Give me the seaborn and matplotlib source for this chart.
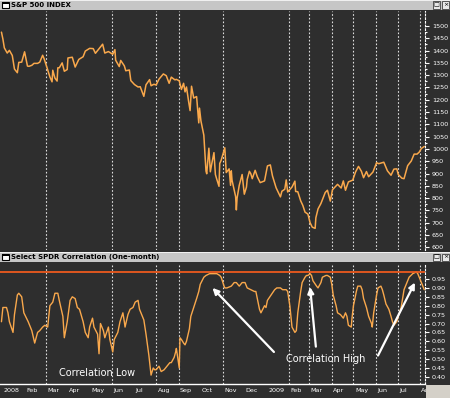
import numpy as np
import pandas as pd
import matplotlib
matplotlib.use("Agg")
import matplotlib.pyplot as plt
import matplotlib.transforms as mtransforms
from matplotlib.patches import Rectangle
import seaborn as sns

# ---------------- data ----------------
spx_dates = [
    "2007-12-31", "2008-01-02", "2008-01-04", "2008-01-08", "2008-01-11", "2008-01-15", "2008-01-18",
    "2008-01-22", "2008-01-24", "2008-01-28", "2008-02-01", "2008-02-05", "2008-02-07", "2008-02-11",
    "2008-02-14", "2008-02-19", "2008-02-22", "2008-02-26", "2008-02-28", "2008-03-03", "2008-03-07",
    "2008-03-10", "2008-03-11", "2008-03-14", "2008-03-17", "2008-03-18", "2008-03-20", "2008-03-24",
    "2008-03-27", "2008-03-31", "2008-04-01", "2008-04-07", "2008-04-11", "2008-04-16", "2008-04-22",
    "2008-04-25", "2008-05-01", "2008-05-06", "2008-05-09", "2008-05-13", "2008-05-19", "2008-05-22",
    "2008-05-27", "2008-06-02", "2008-06-05", "2008-06-06", "2008-06-11", "2008-06-13", "2008-06-18",
    "2008-06-20", "2008-06-25", "2008-06-27", "2008-07-02", "2008-07-07", "2008-07-10", "2008-07-15",
    "2008-07-18", "2008-07-23", "2008-07-25", "2008-07-29", "2008-08-01", "2008-08-05", "2008-08-11",
    "2008-08-15", "2008-08-19", "2008-08-22", "2008-08-27", "2008-08-29", "2008-09-02", "2008-09-05",
    "2008-09-08", "2008-09-10", "2008-09-12", "2008-09-15", "2008-09-17", "2008-09-19", "2008-09-22",
    "2008-09-26", "2008-09-29", "2008-09-30", "2008-10-02", "2008-10-06", "2008-10-09", "2008-10-10",
    "2008-10-13", "2008-10-15", "2008-10-17", "2008-10-20", "2008-10-22", "2008-10-24", "2008-10-27",
    "2008-10-28", "2008-10-30", "2008-11-04", "2008-11-06", "2008-11-10", "2008-11-12", "2008-11-13",
    "2008-11-14", "2008-11-19", "2008-11-20", "2008-11-21", "2008-11-24", "2008-11-28", "2008-12-01",
    "2008-12-04", "2008-12-05", "2008-12-08", "2008-12-10", "2008-12-12", "2008-12-16", "2008-12-19",
    "2008-12-23", "2008-12-29", "2009-01-02", "2009-01-06", "2009-01-09", "2009-01-14", "2009-01-20",
    "2009-01-22", "2009-01-26", "2009-01-28", "2009-01-30", "2009-02-05", "2009-02-09", "2009-02-10",
    "2009-02-13", "2009-02-17", "2009-02-20", "2009-02-23", "2009-02-27", "2009-03-02", "2009-03-05",
    "2009-03-09", "2009-03-10", "2009-03-13", "2009-03-17", "2009-03-23", "2009-03-26", "2009-03-30",
    "2009-04-02", "2009-04-09", "2009-04-14", "2009-04-17", "2009-04-20", "2009-04-24", "2009-04-30",
    "2009-05-04", "2009-05-08", "2009-05-12", "2009-05-15", "2009-05-19", "2009-05-22", "2009-05-28",
    "2009-06-02", "2009-06-05", "2009-06-12", "2009-06-17", "2009-06-22", "2009-06-26", "2009-06-30",
    "2009-07-02", "2009-07-07", "2009-07-10", "2009-07-15", "2009-07-20", "2009-07-24", "2009-07-28",
    "2009-07-31", "2009-08-03", "2009-08-07",
]
spx_values = [
    1475, 1447, 1411, 1390, 1401, 1380, 1325,
    1310, 1352, 1353, 1395, 1337, 1336, 1340,
    1348, 1348, 1353, 1381, 1367, 1331, 1293,
    1273, 1320, 1288, 1276, 1330, 1330, 1350,
    1316, 1323, 1370, 1373, 1333, 1364, 1375,
    1398, 1409, 1408, 1389, 1404, 1426, 1390,
    1396, 1385, 1404, 1361, 1335, 1360, 1338,
    1318, 1321, 1278, 1262, 1252, 1253, 1214,
    1261, 1282, 1257, 1263, 1260, 1284, 1305,
    1298, 1267, 1292, 1281, 1283, 1277, 1242,
    1267, 1232, 1252, 1192, 1156, 1255, 1207,
    1213, 1106, 1166, 1114, 1056, 910, 899,
    1003, 907, 940, 985, 896, 876, 848,
    941, 954, 1005, 904, 919, 852, 911,
    873, 806, 752, 800, 852, 896, 816,
    845, 876, 909, 899, 879, 913, 887,
    863, 870, 931, 935, 890, 842, 805,
    828, 836, 874, 825, 845, 869, 827,
    826, 789, 770, 743, 735, 700, 682,
    677, 720, 756, 778, 823, 832, 788,
    834, 856, 841, 870, 832, 866, 873,
    907, 929, 909, 883, 908, 887, 906,
    944, 940, 946, 911, 893, 918, 919,
    896, 881, 879, 932, 951, 979, 979,
    987, 1002, 1010,
]

corr_dates = [
    "2007-12-31", "2008-01-02", "2008-01-07", "2008-01-09", "2008-01-11", "2008-01-16", "2008-01-18",
    "2008-01-22", "2008-01-24", "2008-01-28", "2008-01-31", "2008-02-06", "2008-02-11", "2008-02-15",
    "2008-02-19", "2008-02-22", "2008-02-26", "2008-02-29", "2008-03-04", "2008-03-07", "2008-03-11",
    "2008-03-14", "2008-03-18", "2008-03-20", "2008-03-25", "2008-03-27", "2008-03-31", "2008-04-04",
    "2008-04-07", "2008-04-11", "2008-04-14", "2008-04-17", "2008-04-22", "2008-04-25", "2008-04-29",
    "2008-05-01", "2008-05-05", "2008-05-07", "2008-05-12", "2008-05-14", "2008-05-16", "2008-05-20",
    "2008-05-22", "2008-05-27", "2008-05-29", "2008-06-02", "2008-06-04", "2008-06-09", "2008-06-12",
    "2008-06-16", "2008-06-18", "2008-06-19", "2008-06-23", "2008-06-26", "2008-06-30", "2008-07-03",
    "2008-07-07", "2008-07-09", "2008-07-11", "2008-07-15", "2008-07-18", "2008-07-22", "2008-07-25",
    "2008-07-28", "2008-07-30", "2008-08-01", "2008-08-05", "2008-08-08", "2008-08-12", "2008-08-14",
    "2008-08-18", "2008-08-20", "2008-08-22", "2008-08-26", "2008-08-28", "2008-08-29", "2008-09-02",
    "2008-09-03", "2008-09-05", "2008-09-08", "2008-09-10", "2008-09-12", "2008-09-16", "2008-09-18",
    "2008-09-22", "2008-09-26", "2008-09-29", "2008-10-01", "2008-10-06", "2008-10-09", "2008-10-14",
    "2008-10-20", "2008-10-24", "2008-10-28", "2008-10-30", "2008-11-03", "2008-11-04", "2008-11-07",
    "2008-11-13", "2008-11-17", "2008-11-20", "2008-11-24", "2008-11-28", "2008-12-02", "2008-12-05",
    "2008-12-10", "2008-12-15", "2008-12-17", "2008-12-19", "2008-12-22", "2008-12-24", "2008-12-29",
    "2008-12-31", "2009-01-02", "2009-01-07", "2009-01-12", "2009-01-15", "2009-01-20", "2009-01-23",
    "2009-01-28", "2009-01-30", "2009-02-02", "2009-02-05", "2009-02-09", "2009-02-11", "2009-02-13",
    "2009-02-17", "2009-02-19", "2009-02-23", "2009-02-25", "2009-02-27", "2009-03-02", "2009-03-04",
    "2009-03-06", "2009-03-11", "2009-03-13", "2009-03-17", "2009-03-19", "2009-03-24", "2009-03-26",
    "2009-03-30", "2009-04-01", "2009-04-03", "2009-04-07", "2009-04-09", "2009-04-13", "2009-04-15",
    "2009-04-17", "2009-04-20", "2009-04-22", "2009-04-24", "2009-04-28", "2009-04-29", "2009-05-01",
    "2009-05-05", "2009-05-07", "2009-05-11", "2009-05-13", "2009-05-15", "2009-05-19", "2009-05-22",
    "2009-05-26", "2009-05-27", "2009-05-29", "2009-06-02", "2009-06-04", "2009-06-08", "2009-06-10",
    "2009-06-12", "2009-06-15", "2009-06-19", "2009-06-22", "2009-06-24", "2009-06-26", "2009-06-30",
    "2009-07-02", "2009-07-06", "2009-07-08", "2009-07-10", "2009-07-14", "2009-07-17", "2009-07-22",
    "2009-07-27", "2009-07-29", "2009-07-31", "2009-08-03", "2009-08-06", "2009-08-07",
]
corr_values = [
    0.71, 0.79, 0.79, 0.76, 0.71, 0.65, 0.75,
    0.86, 0.87, 0.85, 0.76, 0.71, 0.66, 0.59,
    0.65, 0.66, 0.68, 0.69, 0.68, 0.80, 0.82,
    0.87, 0.87, 0.83, 0.74, 0.62, 0.71, 0.83,
    0.85, 0.84, 0.79, 0.78, 0.71, 0.65, 0.62,
    0.68, 0.73, 0.68, 0.64, 0.53, 0.70, 0.66,
    0.62, 0.68, 0.61, 0.54, 0.61, 0.65, 0.71,
    0.76, 0.71, 0.68, 0.75, 0.78, 0.79, 0.82,
    0.83, 0.78, 0.76, 0.72, 0.64, 0.52, 0.41,
    0.45, 0.44, 0.44, 0.46, 0.43, 0.44, 0.45,
    0.47, 0.48, 0.48, 0.51, 0.54, 0.56, 0.45,
    0.62, 0.61, 0.59, 0.58, 0.60, 0.67, 0.74,
    0.79, 0.84, 0.88, 0.92, 0.96, 0.97, 0.98,
    0.98, 0.98, 0.97, 0.96, 0.91, 0.90, 0.90,
    0.91, 0.93, 0.93, 0.91, 0.93, 0.93, 0.90,
    0.89, 0.88, 0.88, 0.84, 0.78, 0.76, 0.80,
    0.79, 0.83, 0.86, 0.89, 0.90, 0.90, 0.89,
    0.89, 0.88, 0.80, 0.68, 0.65, 0.66, 0.76,
    0.88, 0.93, 0.96, 0.97, 0.97, 0.98, 0.97,
    0.94, 0.91, 0.90, 0.93, 0.96, 0.97, 0.97,
    0.96, 0.92, 0.86, 0.80, 0.76, 0.75, 0.74,
    0.73, 0.76, 0.74, 0.69, 0.68, 0.73, 0.80,
    0.88, 0.91, 0.91, 0.89, 0.84, 0.79, 0.74,
    0.70, 0.68, 0.76, 0.86, 0.90, 0.91, 0.89,
    0.86, 0.81, 0.78, 0.74, 0.71, 0.69, 0.71,
    0.74, 0.79, 0.84, 0.89, 0.93, 0.96, 0.98,
    0.99, 0.98, 0.96, 0.93, 0.90, 0.89,
]

grid_dates = ["2008-03-01", "2008-06-01", "2008-08-01", "2008-09-01", "2008-11-01",
              "2009-02-01", "2009-03-01", "2009-04-01", "2009-05-01", "2009-06-01",
              "2009-07-01", "2009-08-01"]
month_labels = ["2008", "Feb", "Mar", "Apr", "May", "Jun", "Jul", "Aug", "Sep", "Oct", "Nov", "Dec",
                "2009", "Feb", "Mar", "Apr", "May", "Jun", "Jul", "Aug"]
price_ticks = [600, 650, 700, 750, 800, 850, 900, 950, 1000, 1050, 1100, 1150, 1200,
               1250, 1300, 1350, 1400, 1450, 1500]
corr_ticks = [0.40, 0.45, 0.50, 0.55, 0.60, 0.65, 0.70, 0.75, 0.80, 0.85, 0.90, 0.95]
corr_threshold = 0.99
top_title = "S&P 500 INDEX"
bottom_title = "Select SPDR Correlation (One-month)"
label_low = "Correlation Low"
label_high = "Correlation High"
low_text_pos = ("2008-05-11", 0.42)
high_text_pos = ("2009-03-24", 0.50)
arrows = [  # (tail date, tail value, head date, head value)
    ("2009-01-11", 0.54, "2008-10-18", 0.90),
    ("2009-03-10", 0.57, "2009-03-02", 0.905),
    ("2009-06-04", 0.52, "2009-07-25", 0.93),
]

# ---------------- style ----------------
W, H = 450, 398
BG = "#2e2e2e"
ORANGE = "#f9a84c"
RED = "#ec5a1e"
BAR = "#c6c6c6"

sns.set_style("dark", {"axes.facecolor": BG, "figure.facecolor": BG})
plt.rcParams["font.family"] = ["DejaVu Sans"]

fig = plt.figure(figsize=(W / 100, H / 100), dpi=100, facecolor=BG)


def px_axes(x0, y0, x1, y1, **kw):
    return fig.add_axes([x0 / W, 1 - y1 / H, (x1 - x0) / W, (y1 - y0) / H], **kw)


ax1 = px_axes(0, 11, 425, 250)
ax2 = px_axes(0, 263, 425, 384)

df_spx = pd.DataFrame({"date": pd.to_datetime(spx_dates), "value": spx_values})
df_corr = pd.DataFrame({"date": pd.to_datetime(corr_dates), "value": corr_values})

sns.lineplot(data=df_spx, x="date", y="value", ax=ax1, color=ORANGE, lw=1.1)
sns.lineplot(data=df_corr, x="date", y="value", ax=ax2, color=ORANGE, lw=1.0)
ax2.axhline(corr_threshold, color=RED, lw=1.3, zorder=3)

xmin, xmax = pd.Timestamp("2007-12-29"), pd.Timestamp("2009-08-08")
gd = pd.to_datetime(grid_dates)
for ax in (ax1, ax2):
    ax.set_facecolor(BG)
    ax.set_xlim(xmin, xmax)
    ax.set_xlabel("")
    ax.set_ylabel("")
    for d in gd:
        ax.axvline(d, color="white", lw=0.8, ls=(0, (1.5, 1.8)), alpha=0.85, zorder=1)
    for s in ("top", "left"):
        ax.spines[s].set_visible(False)
    ax.spines["right"].set_visible(True)
    ax.spines["right"].set_color("white")
    ax.spines["right"].set_linestyle((0, (1.5, 1.8)))
    ax.spines["right"].set_linewidth(0.8)
    ax.yaxis.tick_right()
    ax.tick_params(axis="y", colors="white", labelsize=4.6, length=3, width=0.8,
                   pad=2, direction="out")
    ax.grid(False)

ax1.spines["bottom"].set_visible(False)
ax1.set_ylim(589, 1561)
ax1.set_yticks(price_ticks)
ax1.set_yticklabels([str(v) for v in price_ticks])
ax1.set_yticks([v + 25 for v in price_ticks[:-1]], minor=True)
ax1.tick_params(axis="y", which="minor", length=1.5, width=0.8, color="white")
ax1.set_xticks([])

ax2.set_ylim(0.36, 1.04)
ax2.set_yticks(corr_ticks)
ax2.set_yticklabels([f"{v:.2f}" for v in corr_ticks])
ax2.spines["bottom"].set_color("white")
ax2.spines["bottom"].set_linewidth(1.0)

months = pd.date_range("2008-01-01", "2009-08-01", freq="MS")
ax2.set_xticks(months)
ax2.set_xticklabels(month_labels)
ax2.set_xticks(gd, minor=True)
ax2.tick_params(axis="x", which="major", length=0, colors="white", labelsize=4.6, pad=3)
ax2.tick_params(axis="x", which="minor", length=10, width=0.8, color="white", direction="out")
offset = mtransforms.ScaledTranslation(1.5 / 100, 0, fig.dpi_scale_trans)
for lab in ax2.get_xticklabels():
    lab.set_ha("left")
    lab.set_transform(lab.get_transform() + offset)

# annotations
ax2.text(pd.Timestamp(low_text_pos[0]), low_text_pos[1], label_low, color="white",
         fontsize=7, ha="center", va="center", zorder=5)
ax2.text(pd.Timestamp(high_text_pos[0]), high_text_pos[1], label_high, color="white",
         fontsize=7, ha="center", va="center", zorder=5)
for t_d, t_v, h_d, h_v in arrows:
    ax2.annotate("", xy=(pd.Timestamp(h_d), h_v), xytext=(pd.Timestamp(t_d), t_v),
                 arrowprops=dict(arrowstyle="-|>", color="white", lw=1.6,
                                 mutation_scale=9, shrinkA=0, shrinkB=0), zorder=6)

# window title bars
def bar(y0, y1, title):
    fig.add_artist(Rectangle((0, 1 - y1 / H), 1, (y1 - y0) / H, transform=fig.transFigure,
                             facecolor=BAR, edgecolor="none", zorder=2))
    fig.add_artist(Rectangle((0, 1 - y0 / H - 1 / H), 1, 1 / H, transform=fig.transFigure,
                             facecolor="#f0f0f0", edgecolor="none", zorder=2))
    fig.add_artist(Rectangle((2 / W, 1 - (y1 - 2) / H), 7 / W, (y1 - y0 - 4) / H,
                             transform=fig.transFigure, facecolor="white",
                             edgecolor="black", lw=0.8, zorder=3))
    fig.add_artist(Rectangle((2 / W, 1 - (y0 + 4) / H), 7 / W, 2 / H,
                             transform=fig.transFigure, facecolor="black",
                             edgecolor="none", zorder=3))
    fig.text(11 / W, 1 - ((y0 + y1) / 2) / H, title, fontsize=5, color="black",
             va="center", ha="left", fontweight="bold", zorder=4)
    for bx, sym in ((433, "□"), (442, "×")):
        fig.add_artist(Rectangle((bx / W, 1 - (y1 - 1.5) / H), 7 / W, (y1 - y0 - 3) / H,
                                 transform=fig.transFigure, facecolor="#e8e8e8",
                                 edgecolor="#404040", lw=0.6, zorder=3))
        fig.text((bx + 3.5) / W, 1 - ((y0 + y1) / 2) / H, sym, fontsize=4.5, color="black",
                 va="center", ha="center", zorder=4)

bar(0, 10, top_title)
bar(252, 262, bottom_title)

# corner box under right axis
fig.add_artist(Rectangle((426 / W, 0), 24 / W, 13 / H, transform=fig.transFigure,
                         facecolor="#d4d0c8", edgecolor="none", zorder=5))

fig.savefig("out.png", dpi=100, facecolor=BG)
